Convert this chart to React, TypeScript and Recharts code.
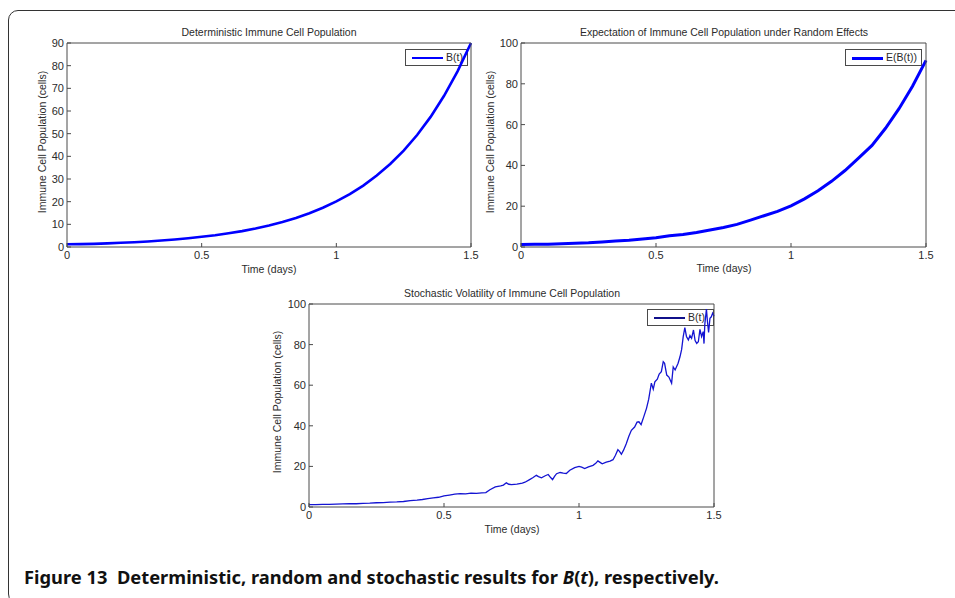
import { LineChart, Line, XAxis, YAxis } from "recharts";
import type { CSSProperties, ReactNode } from "react";

// deterministic model B(t)
const detTime = [
  0, 0.05, 0.1, 0.15, 0.2, 0.25, 0.3, 0.35, 0.4, 0.45, 0.5, 0.55, 0.6, 0.65,
  0.7, 0.75, 0.8, 0.85, 0.9, 0.95, 1, 1.05, 1.1, 1.15, 1.2, 1.25, 1.3, 1.35,
  1.4, 1.45, 1.5,
];
const detValue = [
  1.2, 1.25, 1.4, 1.6, 1.85, 2.1, 2.45, 2.85, 3.3, 3.85, 4.5, 5.2, 6.05, 7.0,
  8.15, 9.5, 11.0, 12.8, 14.9, 17.3, 20.1, 23.3, 27.1, 31.5, 36.6, 42.5, 49.4,
  57.4, 66.7, 77.5, 90.0,
];

// expectation E(B(t)) under random effects
const expTime = detTime;
const expValue = [
  1.2, 1.3, 1.4, 1.6, 1.85, 2.1, 2.5, 2.9, 3.3, 3.9, 4.5, 5.5, 6.1, 7.1, 8.3,
  9.6, 11.1, 13.2, 15.3, 17.5, 20.2, 23.6, 27.6, 32.2, 37.5, 43.6, 49.8, 58.2,
  67.8, 78.8, 91.5,
];

// one stochastic sample path B(t)
const stochTime = [
  0, 0.025, 0.05, 0.075, 0.1, 0.125, 0.15, 0.175, 0.2, 0.225, 0.25, 0.275, 0.3,
  0.325, 0.35, 0.375, 0.4, 0.42, 0.44, 0.46, 0.48, 0.5, 0.52, 0.54, 0.56, 0.58,
  0.6, 0.62, 0.64, 0.655, 0.67, 0.69, 0.71, 0.72, 0.731, 0.74, 0.75, 0.77,
  0.79, 0.8, 0.817, 0.83, 0.842, 0.85, 0.861, 0.875, 0.886, 0.895, 0.902, 0.91,
  0.917, 0.93, 0.942, 0.953, 0.966, 0.984, 1, 1.01, 1.021, 1.035, 1.052, 1.062,
  1.07, 1.078, 1.086, 1.101, 1.115, 1.126, 1.135, 1.144, 1.15, 1.157, 1.165,
  1.175, 1.185, 1.194, 1.206, 1.215, 1.222, 1.23, 1.24, 1.25, 1.258, 1.268,
  1.275, 1.281, 1.29, 1.297, 1.305, 1.312, 1.317, 1.325, 1.333, 1.343, 1.349,
  1.356, 1.367, 1.374, 1.38, 1.386, 1.392, 1.398, 1.405, 1.411, 1.417, 1.424,
  1.43, 1.436, 1.442, 1.448, 1.454, 1.46, 1.463, 1.466, 1.472, 1.476, 1.48,
  1.485, 1.49, 1.495, 1.5,
];
const stochValue = [
  1.2, 1.2, 1.3, 1.3, 1.4, 1.5, 1.6, 1.6, 1.8, 1.9, 2.1, 2.2, 2.4, 2.5, 2.7,
  3.1, 3.4, 3.7, 4.1, 4.5, 4.8, 5.5, 5.9, 6.3, 6.6, 6.5, 6.8, 6.7, 7.0, 7.1,
  8.5, 9.9, 10.4, 10.8, 11.9, 11.2, 11.0, 11.3, 11.8, 12.2, 13.5, 14.5, 15.6,
  15.0, 14.4, 15.4, 16.0, 14.5, 13.5, 15.2, 16.4, 17.0, 16.7, 16.5, 18.1, 19.4,
  20.0, 19.6, 18.9, 19.8, 20.5, 21.5, 22.7, 22.0, 21.3, 22.1, 22.6, 23.3, 25.5,
  28.2, 27.4, 26.0, 28.0, 31.2, 35.0, 37.8, 39.4, 41.8, 42.0, 40.6, 44.5, 48.6,
  53.0, 61.0, 58.0, 61.7, 63.0, 65.5, 66.7, 71.6, 70.8, 65.0, 64.0, 61.0, 69.0,
  67.5, 70.8, 74.0, 77.5, 83.9, 88.4, 84.0, 82.3, 84.5, 83.1, 87.2, 82.0, 80.6,
  81.4, 87.5, 84.0, 86.4, 80.5, 90.0, 97.5, 91.0, 86.0, 93.0, 93.7, 95.5, 94.0,
];

const timeTicks = [0, 0.5, 1, 1.5];
const detTicks = [0, 10, 20, 30, 40, 50, 60, 70, 80, 90];
const pctTicks = [0, 20, 40, 60, 80, 100];

const toRows = (time: number[], value: number[]) =>
  time.map((t, i) => ({ t, v: value[i] }));

const FONT = '"Liberation Sans", Arial, Helvetica, sans-serif';
const INK = "#2b2b2b";
const AXIS = "#4a4a4a";

const tickStyle = { fontSize: 11, fill: INK, fontFamily: FONT };

type PanelProps = {
  left: number;
  top: number;
  width: number;
  height: number;
  margin: { top: number; right: number; bottom: number; left: number };
  rows: { t: number; v: number }[];
  yMax: number;
  yTicks: number[];
  stroke: string;
  strokeWidth: number;
};

// MATLAB-style boxed axes: ticks point inward on all four sides
function Panel(p: PanelProps) {
  return (
    <div style={{ position: "absolute", left: p.left, top: p.top }}>
      <LineChart width={p.width} height={p.height} data={p.rows} margin={p.margin}>
        <XAxis
          dataKey="t"
          type="number"
          domain={[0, 1.5]}
          ticks={timeTicks}
          tick={tickStyle}
          tickSize={-4}
          tickMargin={8}
          height={30}
          stroke={AXIS}
          interval={0}
        />
        <XAxis
          xAxisId="top"
          dataKey="t"
          type="number"
          orientation="top"
          domain={[0, 1.5]}
          ticks={timeTicks}
          tick={false}
          tickSize={-4}
          height={1}
          stroke={AXIS}
          interval={0}
        />
        <YAxis
          type="number"
          domain={[0, p.yMax]}
          ticks={p.yTicks}
          tick={tickStyle}
          tickSize={-4}
          tickMargin={7}
          width={40}
          stroke={AXIS}
          interval={0}
        />
        <YAxis
          yAxisId="right"
          type="number"
          orientation="right"
          domain={[0, p.yMax]}
          ticks={p.yTicks}
          tick={false}
          tickSize={-4}
          width={1}
          stroke={AXIS}
          interval={0}
        />
        {/* hidden twin keeps the top and right axes bound to data */}
        <Line
          xAxisId="top"
          yAxisId="right"
          dataKey="v"
          stroke="none"
          dot={false}
          legendType="none"
          isAnimationActive={false}
        />
        <Line
          dataKey="v"
          type="linear"
          stroke={p.stroke}
          strokeWidth={p.strokeWidth}
          dot={false}
          isAnimationActive={false}
        />
      </LineChart>
    </div>
  );
}

function Txt({
  x,
  y,
  children,
  size = 10.5,
  rotate = false,
}: {
  x: number;
  y: number;
  children: ReactNode;
  size?: number;
  rotate?: boolean;
}) {
  const style: CSSProperties = {
    position: "absolute",
    left: x,
    top: y,
    transform: `translate(-50%, -50%)${rotate ? " rotate(-90deg)" : ""}`,
    whiteSpace: "nowrap",
    fontSize: size,
    fontFamily: FONT,
    color: INK,
    lineHeight: 1,
  };
  return <div style={style}>{children}</div>;
}

function LegendBox({
  left,
  top,
  width,
  label,
  color,
  lineWidth,
}: {
  left: number;
  top: number;
  width: number;
  label: string;
  color: string;
  lineWidth: number;
}) {
  return (
    <div
      style={{
        position: "absolute",
        left,
        top,
        width,
        height: 17,
        border: `1px solid ${AXIS}`,
        background: "#fff",
        boxSizing: "border-box",
      }}
    >
      <div
        style={{
          position: "absolute",
          left: 6,
          top: 8 - lineWidth / 2,
          width: 31,
          height: lineWidth,
          background: color,
        }}
      />
      <div
        style={{
          position: "absolute",
          left: 40,
          top: 1,
          fontSize: 10.5,
          fontFamily: FONT,
          color: INK,
          lineHeight: "13px",
        }}
      >
        {label}
      </div>
    </div>
  );
}

export default function App() {
  return (
    <div
      style={{
        position: "absolute",
        left: 0,
        top: 0,
        width: 955,
        height: 598,
        overflow: "hidden",
        background: "#fff",
      }}
    >
      <div
        style={{
          position: "absolute",
          left: 8,
          top: 10,
          width: 980,
          height: 592,
          border: "1px solid #333",
          borderRadius: 10,
        }}
      />

      {/* legends sit under the curves */}
      <LegendBox left={405} top={49} width={63} label="B(t)" color="#0000ff" lineWidth={2} />
      <LegendBox left={845} top={49} width={77} label="E(B(t))" color="#0000ff" lineWidth={3} />
      <LegendBox left={647} top={309} width={67} label="B(t)" color="#10108a" lineWidth={1.5} />

      <Panel
        left={0}
        top={0}
        width={480}
        height={290}
        margin={{ top: 42, right: 8, bottom: 13, left: 27 }}
        rows={toRows(detTime, detValue)}
        yMax={90}
        yTicks={detTicks}
        stroke="#0000ff"
        strokeWidth={2.6}
      />
      <Panel
        left={475}
        top={0}
        width={480}
        height={290}
        margin={{ top: 42, right: 28, bottom: 13, left: 6 }}
        rows={toRows(expTime, expValue)}
        yMax={100}
        yTicks={pctTicks}
        stroke="#0000ff"
        strokeWidth={3}
      />
      <Panel
        left={260}
        top={280}
        width={470}
        height={260}
        margin={{ top: 23, right: 15, bottom: 3, left: 9 }}
        rows={toRows(stochTime, stochValue)}
        yMax={100}
        yTicks={pctTicks}
        stroke="#1414d2"
        strokeWidth={1.3}
      />

      <Txt x={269} y={32}>Deterministic Immune Cell Population</Txt>
      <Txt x={724} y={32}>Expectation of Immune Cell Population under Random Effects</Txt>
      <Txt x={512} y={293}>Stochastic Volatility of Immune Cell Population</Txt>

      <Txt x={269} y={269}>Time (days)</Txt>
      <Txt x={724} y={268}>Time (days)</Txt>
      <Txt x={512} y={529}>Time (days)</Txt>

      <Txt x={42} y={142} rotate>Immune Cell Population (cells)</Txt>
      <Txt x={490} y={142} rotate>Immune Cell Population (cells)</Txt>
      <Txt x={277} y={402} rotate>Immune Cell Population (cells)</Txt>

      <svg
        width={955}
        height={598}
        style={{ position: "absolute", left: 0, top: 0, pointerEvents: "none" }}
      >
        <text
          x={24}
          y={584}
          textLength={695}
          lengthAdjust="spacingAndGlyphs"
          fontFamily='"Noto Sans", "Open Sans", sans-serif'
          fontWeight={700}
          fontSize={18}
          fill="#111"
        >
          Figure 13{"\u00a0\u00a0"}Deterministic, random and stochastic results for{" "}
          <tspan fontStyle="italic">B</tspan>(<tspan fontStyle="italic">t</tspan>),
          respectively.
        </text>
      </svg>
    </div>
  );
}
